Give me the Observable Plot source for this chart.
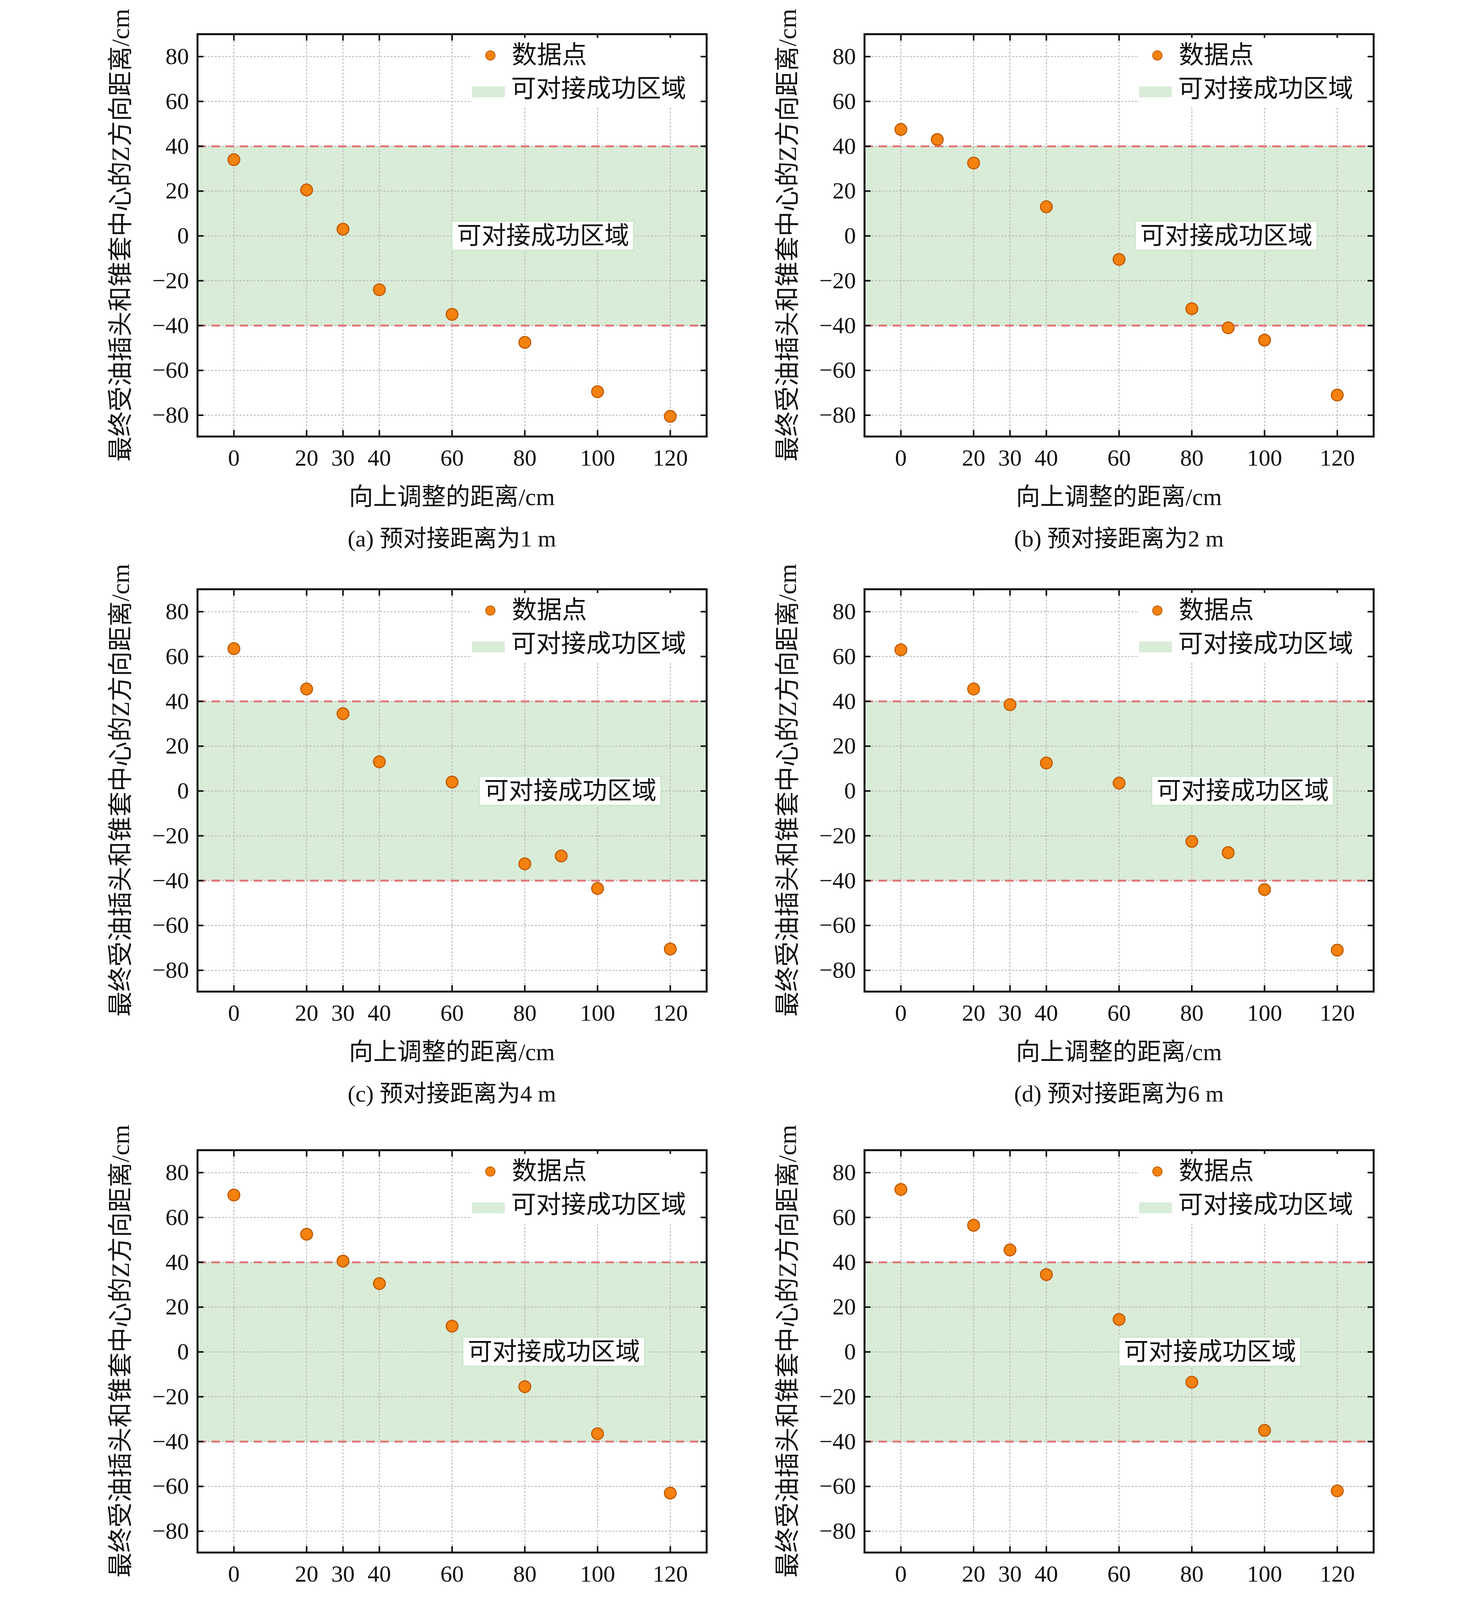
<!DOCTYPE html>
<html><head><meta charset="utf-8">
<script src="https://cdn.jsdelivr.net/npm/d3@7"></script>
<script src="https://cdn.jsdelivr.net/npm/@observablehq/plot@0.6"></script>
<style>
body{margin:0;background:#fff;width:3780px;height:4274px;position:relative;overflow:hidden;font-family:"Liberation Serif","Noto Sans CJK SC",serif;}
.abs{position:absolute;white-space:nowrap;color:#111;line-height:1;}
svg text{font-family:"Liberation Serif","Noto Sans CJK SC",serif !important;}
</style></head><body>
<script>
const xTicks = [0,20,30,40,60,80,100,120];
const yTicks = [-80,-60,-40,-20,0,20,40,60,80];
const xA = [0,20,30,40,60,80,100,120];
const yA = [34,20.5,3,-24,-35,-47.5,-69.5,-80.5];
const xB = [0,10,20,40,60,80,90,100,120];
const yB = [47.5,43,32.5,13,-10.5,-32.5,-41,-46.5,-71];
const xC = [0,20,30,40,60,80,90,100,120];
const yC = [63.5,45.5,34.5,13,4,-32.5,-29,-43.5,-70.5];
const xD = [0,20,30,40,60,80,90,100,120];
const yD = [63,45.5,38.5,12.5,3.5,-22.5,-27.5,-44,-71];
const xE = [0,20,30,40,60,80,100,120];
const yE = [70,52.5,40.5,30.5,11.5,-15.5,-36.5,-63];
const xF = [0,20,30,40,60,80,100,120];
const yF = [72.5,56.5,45.5,34.5,14.5,-13.5,-35,-62];
const captions = ["(a) 预对接距离为1 m","(b) 预对接距离为2 m","(c) 预对接距离为4 m","(d) 预对接距离为6 m","(e) 预对接距离为8 m","(f) 预对接距离为10 m"];
const zoneLabelX = [85,89.5,92.5,94,88,85];
const band = [-40,40];
const xLabel = "向上调整的距离/cm";
const yLabel = "最终受油插头和锥套中心的Z方向距离/cm";
const zoneText = "可对接成功区域";
const legendDot = "数据点";

const panels = [[xA,yA],[xB,yB],[xC,yC],[xD,yD],[xE,yE],[xF,yF]];
const frameLeft = [505,2212];
const frameTop = [87,1508,2944];
const fw = 1303, fh = 1030;
const mL = 330, mT = 80, mR = 80, mB = 210;
const FONT = '"Liberation Serif","Noto Sans CJK SC",serif';

panels.forEach(([xs,ys],i)=>{
  const col = i%2, row = Math.floor(i/2);
  const fl = frameLeft[col], ft = frameTop[row];
  const data = xs.map((x,k)=>({x,y:ys[k]}));
  const zc = zoneLabelX[i];
  const chart = Plot.plot({
    width: mL+fw+mR, height: mT+fh+mB,
    marginLeft:mL, marginTop:mT, marginRight:mR, marginBottom:mB,
    style:{fontFamily:FONT, fontSize:"55px", background:"white", color:"#111"},
    x:{domain:[-10,130]}, y:{domain:[-89.5,90]},
    marks:[
      Plot.rectY([band],{x1:-10,x2:130,y1:d=>d[0],y2:d=>d[1],fill:"#d9ecd8"}),
      Plot.gridX(xTicks,{stroke:"#bbb",strokeOpacity:1,strokeWidth:2.5,strokeDasharray:"5,4"}),
      Plot.gridY(yTicks,{stroke:"#bbb",strokeOpacity:1,strokeWidth:2.5,strokeDasharray:"5,4"}),
      Plot.ruleY(band,{stroke:"#e07a7a",strokeWidth:5,strokeDasharray:"22,14"}),
      Plot.rect([zc],{x1:d=>d-25,x2:d=>d+25,y1:-6.5,y2:6.5,fill:"white",stroke:"#c8e6c8",strokeWidth:3}),
      Plot.text([{x:zc,y:0}],{x:"x",y:"y",text:()=>zoneText,fontSize:63,fill:"#111"}),
      Plot.dot(data,{x:"x",y:"y",r:15,fill:"#f5820f",stroke:"#c15a00",strokeWidth:3}),
      Plot.axisX(xTicks,{tickSize:0,tickPadding:32,tickFormat:d=>d,label:null,fontSize:60}),
      Plot.axisX(xTicks,{tickSize:-16,tickFormat:()=>"",label:null,strokeWidth:4}),
      Plot.axisX(xTicks,{anchor:"top",tickSize:-16,tickFormat:()=>"",label:null,strokeWidth:4}),
      Plot.axisY(yTicks,{tickSize:0,tickPadding:22,tickFormat:d=>d<0?"\u2212"+(-d):d,label:null,fontSize:60}),
      Plot.axisY(yTicks,{tickSize:-16,tickFormat:()=>"",label:null,strokeWidth:4}),
      Plot.axisY(yTicks,{anchor:"right",tickSize:-16,tickFormat:()=>"",label:null,strokeWidth:4}),
      Plot.frame({stroke:"#111",strokeWidth:5})
    ]
  });
  const wrap = document.createElement("div");
  wrap.className="abs";
  wrap.style.left=(fl-mL)+"px"; wrap.style.top=(ft-mT)+"px";
  wrap.appendChild(chart);
  document.body.appendChild(wrap);
  const lg = document.createElement("div");
  lg.className="abs";
  lg.style.cssText=`left:${fl+fw-600}px;top:${ft+10}px;width:585px;height:175px;background:white;font-size:64px;line-height:88px;`;
  lg.innerHTML=`<div style="position:relative;height:88px"><span style="position:absolute;left:34px;top:32px;width:26px;height:26px;border-radius:50%;background:#f5820f;border:2px solid #c15a00;box-sizing:border-box"></span><span style="position:absolute;left:102px;top:0">${legendDot}</span></div>
  <div style="position:relative;height:88px"><span style="position:absolute;left:0;top:36px;width:84px;height:28px;background:#d9ecd8"></span><span style="position:absolute;left:100px;top:-2px">${zoneText}</span></div>`;
  document.body.appendChild(lg);
  const xl = document.createElement("div"); xl.className="abs";
  xl.style.cssText=`left:${fl}px;width:${fw}px;text-align:center;top:${ft+fh+124}px;font-size:62px;`;
  xl.textContent=xLabel; document.body.appendChild(xl);
  const cp = document.createElement("div"); cp.className="abs";
  cp.style.cssText=`left:${fl}px;width:${fw}px;text-align:center;top:${ft+fh+232}px;font-size:60px;`;
  cp.textContent=captions[i]; document.body.appendChild(cp);
  const yl = document.createElement("div"); yl.className="abs";
  yl.style.cssText=`left:${fl-196}px;top:${ft+fh/2}px;font-size:64px;transform:translate(-50%,-50%) rotate(-90deg);`;
  yl.textContent=yLabel; document.body.appendChild(yl);
});
</script>
</body></html>
